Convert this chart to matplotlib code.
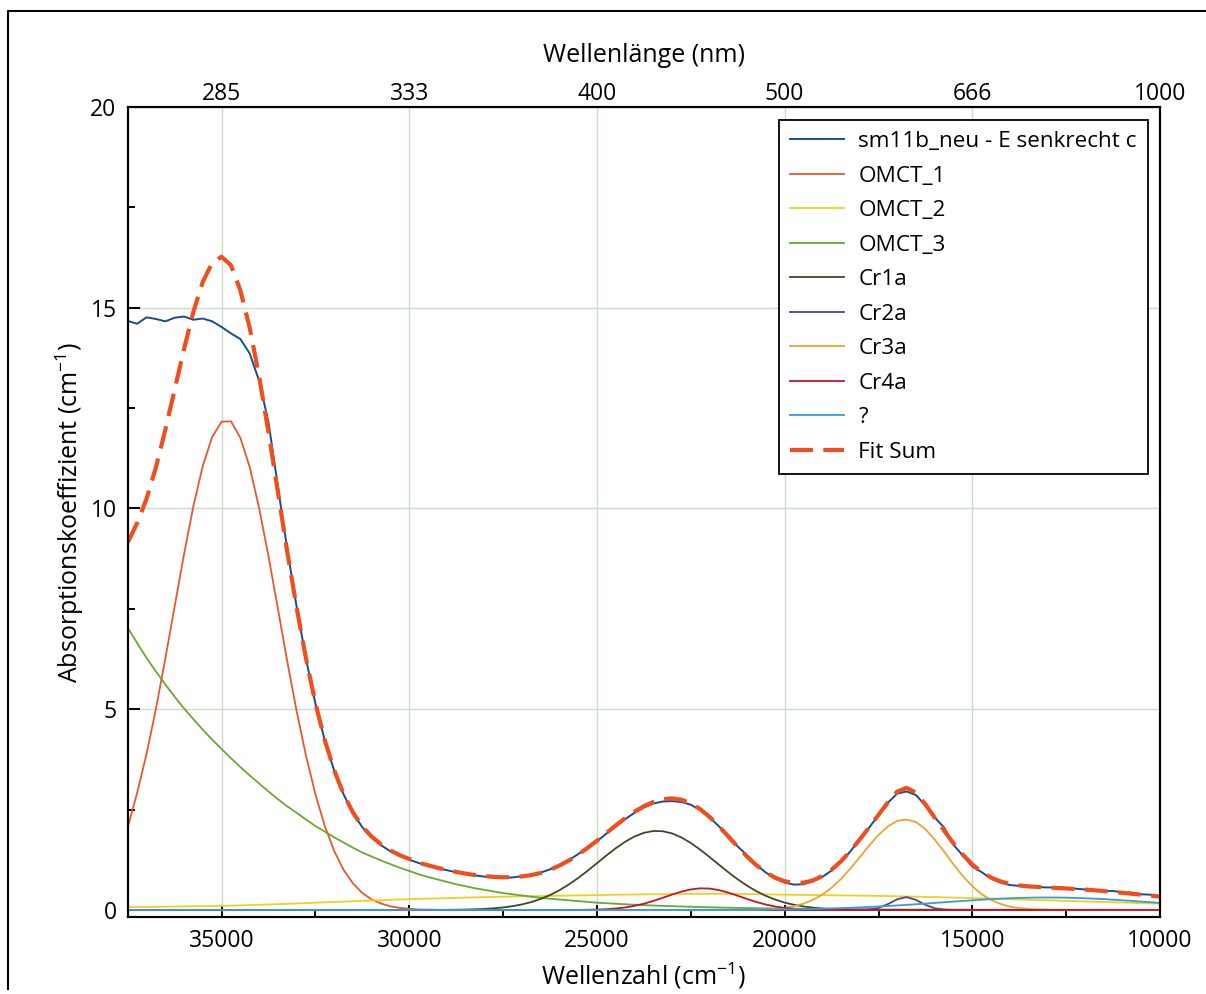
import numpy as np
import matplotlib.pyplot as plt
from matplotlib.lines import Line2D

plt.rcParams['font.family'] = ['Open Sans', 'DejaVu Sans']
plt.rcParams['mathtext.fontset'] = 'custom'
plt.rcParams['mathtext.rm'] = 'Open Sans'
plt.rcParams['mathtext.it'] = 'Open Sans:italic'
plt.rcParams['mathtext.default'] = 'regular'

# Wavenumber axis of the spectrum (cm^-1), 250 cm^-1 steps
wavenumber = np.arange(37500, 9999, -250)

# Measured absorption, sm11b_neu with E perpendicular to c
measured = [
    14.67, 14.60, 14.76, 14.72, 14.66, 14.75, 14.78, 14.70, 14.73, 14.66,
    14.52, 14.36, 14.22, 13.86, 13.18, 12.15, 10.55, 8.98, 7.55, 6.25,
    5.14, 4.22, 3.47, 2.88, 2.41, 2.06, 1.81, 1.61, 1.46, 1.35,
    1.25, 1.17, 1.10, 1.04, 0.99, 0.94, 0.90, 0.86, 0.83, 0.81,
    0.80, 0.81, 0.84, 0.88, 0.93, 1.01, 1.12, 1.24, 1.39, 1.55,
    1.71, 1.90, 2.08, 2.26, 2.42, 2.55, 2.65, 2.70, 2.71, 2.69,
    2.62, 2.49, 2.31, 2.08, 1.86, 1.58, 1.36, 1.12, 0.93, 0.78,
    0.68, 0.63, 0.64, 0.71, 0.82, 0.98, 1.19, 1.46, 1.75, 2.05,
    2.36, 2.67, 2.90, 2.95, 2.86, 2.60, 2.30, 2.05, 1.62, 1.35,
    1.08, 0.94, 0.78, 0.68, 0.62, 0.60, 0.58, 0.57, 0.56, 0.56,
    0.54, 0.53, 0.51, 0.50, 0.47, 0.47, 0.44, 0.43, 0.39, 0.38,
    0.33,
]

# Fitted bands
omct_1 = [
    2.05, 2.91, 3.88, 5.00, 6.25, 7.56, 8.86, 10.06, 11.06, 11.78,
    12.16, 12.17, 11.76, 11.03, 10.01, 8.81, 7.51, 6.19, 4.95, 3.84,
    2.88, 2.09, 1.47, 1.00, 0.66, 0.42, 0.26, 0.16, 0.09, 0.05,
    0.03, 0.01, 0.01,
] + [0.0] * 78

omct_2 = [
    0.070, 0.073, 0.076, 0.079, 0.082, 0.085, 0.088, 0.091, 0.094, 0.097,
    0.100, 0.107, 0.114, 0.121, 0.128, 0.136, 0.144, 0.152, 0.161, 0.170,
    0.180, 0.189, 0.198, 0.207, 0.216, 0.225, 0.234, 0.243, 0.252, 0.261,
    0.270, 0.276, 0.282, 0.288, 0.294, 0.300, 0.306, 0.312, 0.318, 0.324,
    0.330, 0.334, 0.338, 0.342, 0.346, 0.350, 0.354, 0.358, 0.362, 0.366,
    0.370, 0.374, 0.378, 0.382, 0.385, 0.388, 0.391, 0.394, 0.396, 0.398,
    0.399, 0.400, 0.400, 0.400, 0.399, 0.398, 0.396, 0.392, 0.388, 0.384,
    0.380, 0.377, 0.374, 0.371, 0.368, 0.365, 0.362, 0.359, 0.356, 0.353,
    0.350, 0.345, 0.340, 0.335, 0.330, 0.325, 0.320, 0.314, 0.308, 0.302,
    0.296, 0.289, 0.282, 0.275, 0.268, 0.261, 0.254, 0.247, 0.240, 0.233,
    0.226, 0.219, 0.212, 0.205, 0.198, 0.191, 0.184, 0.177, 0.170, 0.162,
    0.155,
]

omct_3 = [
    7.03, 6.65, 6.28, 5.94, 5.62, 5.31, 5.02, 4.75, 4.49, 4.24,
    4.01, 3.78, 3.56, 3.35, 3.15, 2.95, 2.76, 2.58, 2.42, 2.25,
    2.09, 1.95, 1.81, 1.68, 1.55, 1.43, 1.33, 1.23, 1.14, 1.05,
    0.97, 0.89, 0.82, 0.76, 0.70, 0.64, 0.59, 0.54, 0.50, 0.46,
    0.42, 0.39, 0.36, 0.33, 0.30, 0.28, 0.26, 0.24, 0.22, 0.20,
    0.180, 0.167, 0.154, 0.141, 0.130, 0.120, 0.110, 0.101, 0.093, 0.086,
    0.079, 0.072, 0.066, 0.061, 0.056, 0.051, 0.047, 0.043, 0.039, 0.036,
    0.033, 0.030, 0.027, 0.025, 0.023, 0.021, 0.019, 0.017, 0.016, 0.014,
    0.013, 0.012, 0.011, 0.010, 0.009, 0.009, 0.008, 0.008, 0.007, 0.007,
    0.006, 0.006, 0.006, 0.005, 0.005, 0.005, 0.004, 0.004, 0.004, 0.004,
    0.003, 0.003, 0.003, 0.003, 0.003, 0.002, 0.002, 0.002, 0.002, 0.002,
    0.002,
]

cr1a = [0.0] * 32 + [
    0.001, 0.002, 0.003, 0.006, 0.009, 0.016, 0.025, 0.040,
    0.062, 0.094, 0.137, 0.196, 0.273, 0.371, 0.491, 0.633, 0.796, 0.975,
    1.164, 1.355, 1.536, 1.698, 1.830, 1.921, 1.966, 1.961, 1.906, 1.806,
    1.668, 1.501, 1.317, 1.126, 0.938, 0.762, 0.603, 0.465, 0.350, 0.256,
    0.183, 0.128, 0.087, 0.057, 0.037, 0.023, 0.014, 0.008, 0.005, 0.003,
    0.002,
] + [0.0] * 30

cr2a = [0.0] * 78 + [
    0.002, 0.012, 0.051, 0.144, 0.267, 0.320, 0.249, 0.126, 0.041, 0.009,
    0.001,
] + [0.0] * 22

cr3a = [0.0] * 64 + [
    0.001, 0.002, 0.004, 0.008, 0.015, 0.029,
    0.053, 0.093, 0.156, 0.248, 0.379, 0.553, 0.772, 1.029, 1.313, 1.601,
    1.867, 2.080, 2.220, 2.250, 2.190, 2.010, 1.750, 1.450, 1.130, 0.840,
    0.590, 0.390, 0.248, 0.149, 0.084, 0.045, 0.023, 0.011, 0.005, 0.002,
    0.001,
] + [0.0] * 10

cr4a = [0.0] * 49 + [
    0.005,
    0.010, 0.019, 0.036, 0.062, 0.101, 0.155, 0.223, 0.301, 0.383, 0.456,
    0.511, 0.538, 0.532, 0.494, 0.431, 0.354, 0.272, 0.197, 0.134, 0.085,
    0.051, 0.029, 0.015, 0.008, 0.004, 0.002,
] + [0.0] * 35

unknown = [0.0] * 62 + [
    0.002, 0.003, 0.004, 0.004, 0.005, 0.007, 0.009, 0.011,
    0.014, 0.017, 0.021, 0.026, 0.031, 0.038, 0.045, 0.053, 0.063, 0.074,
    0.085, 0.098, 0.112, 0.126, 0.142, 0.158, 0.175, 0.191, 0.208, 0.224,
    0.240, 0.255, 0.269, 0.281, 0.291, 0.299, 0.305, 0.309, 0.310, 0.309,
    0.305, 0.299, 0.291, 0.281, 0.269, 0.255, 0.240, 0.224, 0.208, 0.191,
    0.175,
]

bands = [
    ('OMCT_1', omct_1, '#e8582c'),
    ('OMCT_2', omct_2, '#f2cf1d'),
    ('OMCT_3', omct_3, '#6aa832'),
    ('Cr1a', cr1a, '#3d4b22'),
    ('Cr2a', cr2a, '#5a3e8e'),
    ('Cr3a', cr3a, '#f0a22e'),
    ('Cr4a', cr4a, '#c4122f'),
    ('?', unknown, '#2f9fd8'),
]

# The fit is the sum of all bands
fit_sum = np.sum([b[1] for b in bands], axis=0)

# Bottom ticks in wavenumber, top labels in wavelength (nm)
major_wavenumbers = [35000, 30000, 25000, 20000, 15000, 10000]
minor_wavenumbers = [32500, 27500, 22500, 17500, 12500]
wavelength_labels = ['285', '333', '400', '500', '666', '1000']

fig = plt.figure(figsize=(12.06, 9.94), dpi=100)
ax = fig.add_axes([0.1059, 0.0775, 0.8560, 0.8149])

ax.plot(wavenumber, measured, color='#174d8c', lw=1.4,
        label='sm11b_neu - E senkrecht c')
for name, values, colour in bands:
    ax.plot(wavenumber, values, color=colour, lw=1.3, label=name)
ax.plot(wavenumber, fit_sum, color='#f04e1c', lw=3.0, dashes=(5.5, 2.5),
        label='Fit Sum')

ax.set_xlim(37500, 10000)
ax.set_ylim(-0.175, 20)
ax.set_xticks(major_wavenumbers)
ax.set_xticks(minor_wavenumbers, minor=True)
ax.set_yticks([0, 5, 10, 15, 20])
ax.set_yticks([2.5, 7.5, 12.5, 17.5], minor=True)
ax.tick_params(which='both', direction='in', top=False, right=False,
               width=1.4, labelsize=16.5)
ax.tick_params(which='major', length=8.5)
ax.tick_params(which='minor', length=5)
ax.tick_params(axis='x', pad=9)
ax.tick_params(axis='y', pad=8)
ax.grid(True, which='major', color='#c8dec8', lw=1.0)
ax.set_axisbelow(True)
for spine in ax.spines.values():
    spine.set_linewidth(1.5)

ax.set_xlabel(r'Wellenzahl (cm$^{-1}$)', fontsize=18, labelpad=5)
ax.set_ylabel(r'Absorptionskoeffizient (cm$^{-1}$)', fontsize=18,
              labelpad=3)

ax_top = ax.twiny()
ax_top.set_xlim(ax.get_xlim())
ax_top.set_xticks(major_wavenumbers)
ax_top.set_xticklabels(wavelength_labels)
ax_top.tick_params(length=0, pad=1, labelsize=16.5)
ax_top.set_xlabel('Wellenlänge (nm)', fontsize=18, labelpad=14)
for spine in ax_top.spines.values():
    spine.set_linewidth(1.5)

leg = ax.legend(loc='upper right', bbox_to_anchor=(0.9884, 0.984),
                borderaxespad=0, fancybox=False, edgecolor='black',
                framealpha=1, fontsize=16.2, handlelength=2.4,
                handletextpad=0.65, labelspacing=0.6, borderpad=0.5)
leg.get_frame().set_linewidth(1.3)

# Frame line along the top and left of the page
fig.add_artist(Line2D([0.0066, 0.0066, 1.0], [0.005, 0.989, 0.989],
                      transform=fig.transFigure, color='black', lw=1.5))

fig.savefig('out.png', dpi=100)
